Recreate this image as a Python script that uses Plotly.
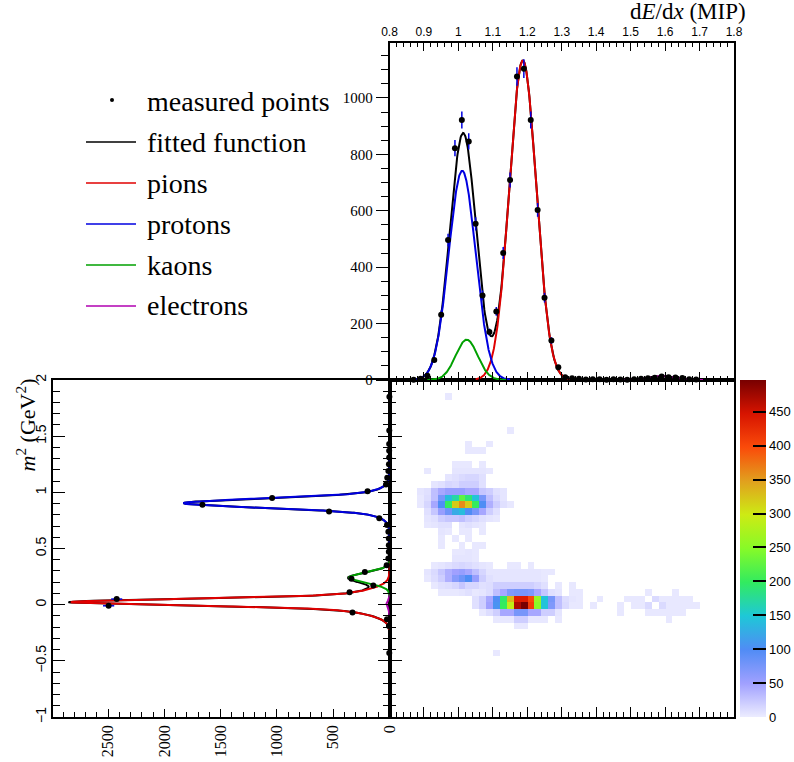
import numpy as np
import plotly.graph_objects as go

W, H = 794, 762

# ---------------- data ----------------
# dE/dx projection (top panel), bin centres and counts
dedx_bin_centers = [0.87, 0.89, 0.91, 0.93, 0.95, 0.97, 0.99, 1.01, 1.03, 1.05,
                    1.07, 1.09, 1.11, 1.13, 1.15, 1.17, 1.19, 1.21, 1.23, 1.25,
                    1.27, 1.29, 1.31, 1.33, 1.35, 1.37, 1.39, 1.41, 1.43, 1.45,
                    1.47, 1.49, 1.51, 1.53, 1.55, 1.57, 1.59, 1.61, 1.63, 1.65,
                    1.67, 1.69]
dedx_counts = [1, 4, 15, 71, 231, 496, 822, 922, 846, 554,
               300, 170, 243, 450, 709, 1076, 1104, 922, 603, 292,
               140, 45, 10, 6, 4, 2, 3, 3, 1, 3,
               2, 1, 3, 4, 6, 8, 12, 10, 9, 7,
               3, 2]

# m^2 projection (left panel), bin centres and counts
m2_bin_centers = [-0.43, -0.19, -0.13, -0.07, -0.01, 0.05, 0.11, 0.17, 0.23, 0.29,
                  0.35, 0.41, 0.47, 0.53, 0.59, 0.65, 0.71, 0.77, 0.83, 0.89,
                  0.95, 1.01, 1.07, 1.13, 1.19, 1.25, 1.31, 1.37, 1.43, 1.55, 1.85]
m2_counts = [2, 5, 22, 329, 2496, 2424, 355, 144, 338, 219,
             25, 10, 6, 6, 6, 10, 22, 91, 537, 1662,
             1043, 195, 31, 20, 10, 5, 3, 3, 3, 2, 1]

# fitted Gaussian components (amplitude, mean, sigma)
dedx_fit_pions = [[1133, 1.187, 0.039]]
dedx_fit_protons = [[742, 1.011, 0.039]]
dedx_fit_kaons = [[143, 1.024, 0.032]]
dedx_fit_electrons = [[14, 1.59, 0.035]]
dedx_fit_ranges = {"pions": (1.05, 1.33), "protons": (0.87, 1.15),
                   "kaons": (0.91, 1.14), "electrons": (1.47, 1.71),
                   "total": (0.86, 1.72)}

m2_fit_pions = [[2230, 0.022, 0.028], [600, 0.022, 0.075]]
m2_fit_protons = [[1450, 0.903, 0.038], [380, 0.903, 0.075]]
m2_fit_kaons = [[360, 0.24, 0.045]]
m2_fit_electrons = [[28, 0.0, 0.03]]
m2_fit_ranges = {"pions": (-0.22, 0.42), "protons": (0.5, 1.32),
                 "kaons": (0.07, 0.43), "electrons": (-0.09, 0.09),
                 "total": (-0.25, 1.35)}

# 2D histogram: 50 x 50 bins, dE/dx 0.8..1.8, m^2 -1..2
# rows counted from the top (m^2 = 2) ; each row: first non-empty column + values
hist_row_index = [2, 7, 9, 10, 12, 13, 14, 15, 16, 17, 18, 19, 20, 21, 22, 23, 24,
                  25, 26, 27, 28, 29, 30, 31, 32, 33, 34, 35, 36, 40]
hist_row_first_col = [8, 17, 11, 11, 9, 5, 8, 6, 4, 4, 4, 5, 5, 5, 7, 7, 7,
                      9, 9, 6, 5, 5, 6, 7, 12, 12, 13, 15, 18, 15]
hist_row_values = [
    [3],
    [3],
    [3, 0, 0, 3],
    [3, 3, 3],
    [3, 3, 3, 0, 3],
    [3, 0, 0, 0, 5, 5, 5, 5, 5, 3],
    [5, 8, 12, 15, 15, 8],
    [5, 8, 15, 12, 20, 20, 20, 8],
    [5, 8, 30, 45, 55, 55, 55, 45, 45, 25, 20, 8, 5],
    [3, 10, 30, 75, 140, 170, 225, 190, 145, 75, 30, 12, 5],
    [3, 15, 45, 100, 200, 320, 360, 320, 200, 100, 40, 20, 8, 3],
    [8, 25, 55, 80, 125, 140, 100, 75, 45, 20, 8],
    [5, 8, 20, 25, 25, 30, 20, 15, 8, 5, 3],
    [3, 5, 8, 8, 0, 5, 8, 5, 3],
    [5, 3, 0, 3, 3, 0, 3],
    [3, 0, 3, 0, 3],
    [3, 0, 0, 3, 0, 3, 3],
    [3, 3, 5, 3],
    [5, 5, 5, 3],
    [3, 5, 8, 12, 15, 12, 8, 5, 3, 0, 0, 3, 3, 0, 3],
    [5, 12, 25, 40, 50, 55, 45, 30, 15, 5, 5, 5, 5, 5, 5, 5, 5, 3, 3],
    [3, 10, 20, 40, 65, 80, 100, 55, 20, 8, 5, 5, 5, 5, 5, 5, 5, 3],
    [3, 8, 10, 15, 25, 15, 15, 8, 10, 20, 20, 20, 20, 20, 20, 15, 8, 0, 3, 0, 3],
    [3, 3, 3, 5, 8, 3, 5, 10, 30, 45, 70, 75, 75, 70, 45, 25, 8, 5, 0, 3, 3,
     0, 0, 0, 0, 0, 0, 0, 0, 0, 3, 0, 0, 0, 3],
    [8, 20, 45, 100, 195, 330, 440, 440, 400, 260, 145, 75, 30, 10, 5, 3, 0, 0, 3,
     0, 0, 0, 3, 3, 3, 0, 12, 3, 3, 3, 3, 3],
    [8, 20, 50, 105, 200, 290, 470, 497, 410, 250, 145, 70, 30, 12, 3, 3, 0, 3,
     0, 0, 0, 3, 0, 3, 3, 12, 0, 12, 3, 3, 3, 3, 3],
    [3, 10, 20, 45, 45, 75, 75, 45, 45, 20, 20, 5, 0, 0, 0, 0, 0, 0, 0, 0, 3,
     0, 0, 0, 3, 3, 3, 3, 3, 3],
    [3, 3, 3, 20, 20, 3, 3, 3, 0, 3, 0, 0, 0, 0, 0, 0, 0, 0, 0, 0, 0, 0, 0, 0, 0, 3],
    [3, 3],
    [3],
]
n_bins = 50
z_max = 497

# ---------------- build ----------------
z = np.full((n_bins, n_bins), np.nan)
for r, c0, vals in zip(hist_row_index, hist_row_first_col, hist_row_values):
    for j, v in enumerate(vals):
        if v > 0:
            z[n_bins - 1 - r, c0 + j] = v


def gsum(x, comps):
    return sum(a * np.exp(-0.5 * ((x - m) / s) ** 2) for a, m, s in comps)


def px_x(p):
    return p / W


def px_y(p):
    return 1 - p / H


SERIF = "Liberation Serif"
SANS = "Liberation Sans"
RED, BLUE, GREEN, MAG = "#e00000", "#0000e0", "#00a000", "#b000b0"

xd_main = [px_x(389.5), px_x(734)]
xd_left = [px_x(53), px_x(389.5)]
yd_bottom = [px_y(717), px_y(380)]
yd_top = [px_y(380), px_y(43)]

colorscale = [
    [0.0, "rgb(236,236,255)"],
    [0.03, "rgb(214,214,255)"],
    [0.1, "rgb(160,160,255)"],
    [0.2, "rgb(80,140,245)"],
    [0.3, "rgb(30,200,215)"],
    [0.4, "rgb(50,235,95)"],
    [0.5, "rgb(135,250,40)"],
    [0.6, "rgb(205,235,20)"],
    [0.7, "rgb(225,160,30)"],
    [0.8, "rgb(250,75,10)"],
    [0.9, "rgb(215,20,0)"],
    [1.0, "rgb(120,0,0)"],
]

fig = go.Figure()

fig.add_trace(go.Heatmap(
    z=z, x0=0.81, dx=0.02, y0=-0.97, dy=0.06, xaxis="x", yaxis="y",
    zmin=0, zmax=z_max, colorscale=colorscale, zsmooth=False, hoverongaps=False,
    showlegend=False,
    colorbar=dict(x=px_x(739.5), xanchor="left", xpad=0, thickness=26,
                  y=px_y(717), yanchor="bottom", len=337 / H, lenmode="fraction", ypad=0,
                  outlinewidth=0, ticks="inside", ticklen=13, tickwidth=1.5, tickcolor="black",
                  tickvals=list(range(0, 451, 50)), tickfont=dict(family=SANS, size=13, color="black")),
))

# ----- top panel (dE/dx) -----
comps_top = [("fitted function", "black", dedx_fit_pions + dedx_fit_protons + dedx_fit_kaons + dedx_fit_electrons, "total"),
             ("pions", RED, dedx_fit_pions, "pions"),
             ("protons", BLUE, dedx_fit_protons, "protons"),
             ("kaons", GREEN, dedx_fit_kaons, "kaons"),
             ("electrons", MAG, dedx_fit_electrons, "electrons")]
for name, col, comps, key in comps_top:
    lo, hi = dedx_fit_ranges[key]
    xs = np.linspace(lo, hi, 600)
    fig.add_trace(go.Scatter(x=xs, y=gsum(xs, comps), mode="lines", name=name,
                             line=dict(color=col, width=2), xaxis="x2", yaxis="y2",
                             showlegend=False))
fig.add_trace(go.Scatter(
    x=dedx_bin_centers, y=dedx_counts, mode="markers", name="measured points",
    marker=dict(color="black", size=6), cliponaxis=False,
    error_y=dict(type="data", array=np.sqrt(dedx_counts), color=BLUE, thickness=1.5, width=0),
    xaxis="x2", yaxis="y2", showlegend=False))

# ----- left panel (m^2) -----
comps_left = [("fitted function", "black", m2_fit_pions + m2_fit_protons + m2_fit_kaons + m2_fit_electrons, "total"),
              ("pions", RED, m2_fit_pions, "pions"),
              ("protons", BLUE, m2_fit_protons, "protons"),
              ("kaons", GREEN, m2_fit_kaons, "kaons"),
              ("electrons", MAG, m2_fit_electrons, "electrons")]
for name, col, comps, key in comps_left:
    lo, hi = m2_fit_ranges[key]
    ys = np.linspace(lo, hi, 800)
    fig.add_trace(go.Scatter(x=gsum(ys, comps), y=ys, mode="lines", name=name,
                             line=dict(color=col, width=2), xaxis="x3", yaxis="y3",
                             showlegend=False))
fig.add_trace(go.Scatter(
    x=m2_counts, y=m2_bin_centers, mode="markers", name="measured points",
    marker=dict(color="black", size=6), cliponaxis=False,
    error_x=dict(type="data", array=np.sqrt(m2_counts), color=BLUE, thickness=1.5, width=0),
    xaxis="x3", yaxis="y3", showlegend=False))

ax_common = dict(showgrid=False, zeroline=False, showline=True, linecolor="black",
                 linewidth=1.5, tickcolor="black", tickwidth=1.2, automargin=False)

fig.update_layout(
    width=W, height=H, autosize=False,
    margin=dict(l=0, r=0, t=0, b=0, autoexpand=False),
    paper_bgcolor="white", plot_bgcolor="white",
    xaxis=dict(domain=xd_main, range=[0.8, 1.8], anchor="y", showticklabels=False,
               ticks="inside", ticklen=10, tick0=0.8, dtick=0.1, mirror="ticks",
               minor=dict(ticks="inside", ticklen=5, dtick=0.02, tick0=0.8, tickcolor="black"),
               **ax_common),
    yaxis=dict(domain=yd_bottom, range=[-1, 2], anchor="x", showticklabels=False,
               ticks="inside", ticklen=13, tick0=-1, dtick=0.5, mirror=True,
               minor=dict(ticks="inside", ticklen=7, dtick=0.1, tick0=-1, tickcolor="black"),
               **ax_common),
    xaxis2=dict(domain=xd_main, range=[0.8, 1.8], anchor="y2", side="top",
                ticks="inside", ticklen=8, tick0=0.8, dtick=0.1, mirror="ticks",
                minor=dict(ticks="inside", ticklen=4, dtick=0.02, tick0=0.8, tickcolor="black"),
                tickfont=dict(family=SANS, size=12, color="black"), **ax_common),
    yaxis2=dict(domain=yd_top, range=[0, 1195], anchor="x2",
                ticks="outside", ticklen=12, tick0=0, dtick=200, mirror=True,
                minor=dict(ticks="outside", ticklen=7, dtick=50, tick0=0, tickcolor="black"),
                tickfont=dict(family=SERIF, size=15, color="black"), **ax_common),
    xaxis3=dict(domain=xd_left, range=[2990, 0], anchor="y3",
                ticks="inside", ticklen=8, tick0=0, dtick=500, mirror=True, tickangle=-90,
                minor=dict(ticks="inside", ticklen=5, dtick=100, tick0=0, tickcolor="black"),
                tickfont=dict(family=SERIF, size=16, color="black"), **ax_common),
    yaxis3=dict(domain=yd_bottom, range=[-1, 2], anchor="x3",
                ticks="inside", ticklen=12, tick0=-1, dtick=0.5, mirror="ticks", tickangle=-90,
                minor=dict(ticks="inside", ticklen=7, dtick=0.1, tick0=-1, tickcolor="black"),
                tickfont=dict(family=SANS, size=14, color="black"), **ax_common),
)

annotations = [
    dict(x=px_x(748), y=px_y(12), xref="paper", yref="paper", xanchor="right", yanchor="middle",
         text="d<i>E</i>/d<i>x</i> (MIP)", showarrow=False,
         font=dict(family=SERIF, size=23, color="black")),
    dict(x=px_x(25), y=px_y(377), xref="paper", yref="paper", xanchor="center", yanchor="top",
         text="<i>m</i><sup>2</sup> (GeV<sup>2</sup>)", showarrow=False, textangle=-90,
         font=dict(family=SERIF, size=22, color="black")),
]
shapes = []
legend_labels = ["measured points", "fitted function", "pions", "protons", "kaons", "electrons"]
legend_colors = ["black", "black", RED, BLUE, GREEN, MAG]
legend_y = [101, 142, 183, 224, 265, 306]
for lab, col, yy in zip(legend_labels, legend_colors, legend_y):
    annotations.append(dict(x=px_x(145), y=px_y(yy), xref="paper", yref="paper",
                            xanchor="left", yanchor="middle", text=lab, showarrow=False,
                            font=dict(family=SERIF, size=28, color="black")))
    if lab == "measured points":
        shapes.append(dict(type="circle", xref="paper", yref="paper",
                           x0=px_x(110), x1=px_x(114), y0=px_y(102), y1=px_y(98),
                           fillcolor="black", line=dict(color="black", width=0)))
    else:
        shapes.append(dict(type="line", xref="paper", yref="paper",
                           x0=px_x(86), x1=px_x(136), y0=px_y(yy), y1=px_y(yy),
                           line=dict(color=col, width=1.5)))

fig.update_layout(annotations=annotations, shapes=shapes)
fig.write_html(
    "out.html",
    config={"displayModeBar": False, "responsive": False},
    post_script=("document.documentElement.style.overflow='hidden';"
                 "document.body.style.overflow='hidden';"
                 "document.body.style.margin='0px';"),
)
